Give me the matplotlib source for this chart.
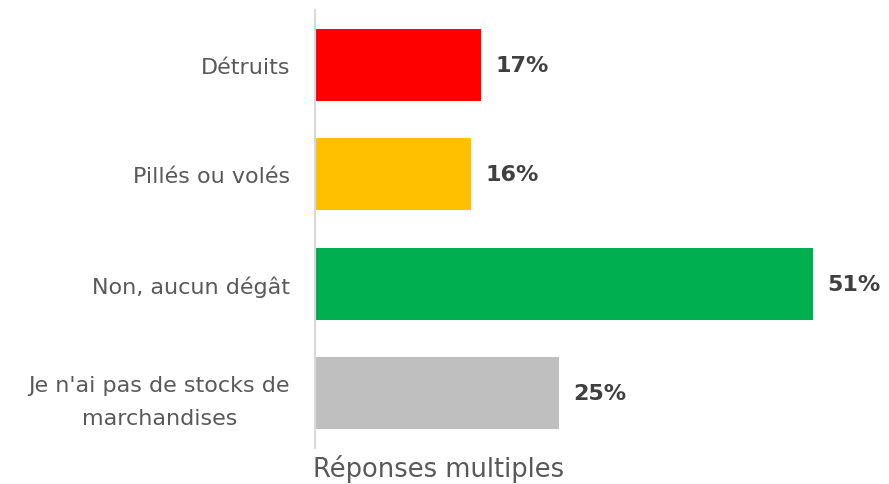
import matplotlib
matplotlib.use("Agg")
import matplotlib.pyplot as plt

categories = ["Détruits", "Pillés ou volés", "Non, aucun dégât",
              "Je n'ai pas de stocks de\nmarchandises"]
values = [17, 16, 51, 25]
colors = ["#ff0000", "#ffc000", "#00b050", "#bfbfbf"]
note = "Réponses multiples"

plt.rcParams["font.family"] = ["DejaVu Sans"]

fig = plt.figure(figsize=(8.89, 4.85), dpi=100)
# axes box in pixels: left 315, right 880, top 11, bottom 449
ax = fig.add_axes([315 / 889, 1 - 449 / 485, 565 / 889, 438 / 485])

ys = list(range(len(categories)))
ax.barh(ys, values, height=0.66, color=colors)
ax.set_ylim(len(categories) - 0.5, -0.5)
ax.set_xlim(0, 565 / 9.76)

for y, v in zip(ys, values):
    ax.text(v + 1.5, y, f"{v}%", va="center", ha="left",
            fontsize=16, fontweight="bold", color="#404040")

ax.set_yticks(ys)
ax.set_yticklabels(categories, fontsize=16, color="#595959")
for lbl in ax.get_yticklabels():
    lbl.set_multialignment("center")
    lbl.set_linespacing(1.8)
ax.tick_params(axis="y", length=0, pad=18)
ax.set_xticks([])
for s in ("top", "right", "bottom"):
    ax.spines[s].set_visible(False)
ax.spines["left"].set_color("#d9d9d9")
ax.spines["left"].set_linewidth(1.5)

fig.text(313 / 889, 1 - 469 / 485, note, fontsize=18.5, color="#595959",
         ha="left", va="center")

fig.savefig("out.png")
